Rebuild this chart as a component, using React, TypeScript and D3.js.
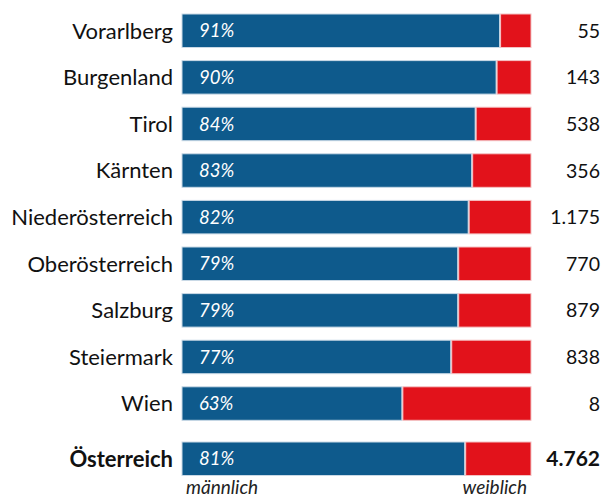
import React, { useRef, useEffect } from "react";
import * as d3 from "d3";

const regions = [
  "Vorarlberg",
  "Burgenland",
  "Tirol",
  "Kärnten",
  "Niederösterreich",
  "Oberösterreich",
  "Salzburg",
  "Steiermark",
  "Wien",
];
const malePct = [91, 90, 84, 83, 82, 79, 79, 77, 63];
const totals = ["55", "143", "538", "356", "1.175", "770", "879", "838", "8"];

const totalLabel = "Österreich";
const totalPct = 81;
const totalCount = "4.762";

const BLUE = "#0e5a8c";
const RED = "#e2121b";
const FONT = "Lato, 'Noto Sans', sans-serif";

const App = () => {
  const svgRef = useRef<SVGSVGElement>(null);

  useEffect(() => {
    if (!svgRef.current) return;
    const svg = d3.select(svgRef.current);
    svg.selectAll("*").remove();

    const step = 46.6;
    const bh = 33.5;
    const x = d3.scaleLinear().domain([0, 100]).range([182, 531]);
    const y = d3
      .scaleBand<string>()
      .domain(regions)
      .range([14, 14 + step * (regions.length - 1) + bh])
      .paddingInner((step - bh) / step)
      .paddingOuter(0);

    const rows = [
      ...regions.map((r, i) => ({ name: r, pct: malePct[i], total: totals[i], y: y(r)!, bold: false })),
      { name: totalLabel, pct: totalPct, total: totalCount, y: 442, bold: true },
    ];

    const g = svg.append("g");
    const row = g
      .selectAll("g.row")
      .data(rows)
      .join("g")
      .attr("class", "row")
      .attr("transform", (d) => `translate(0,${d.y})`);

    row
      .append("rect")
      .attr("x", x(0))
      .attr("width", (d) => x(d.pct) - x(0))
      .attr("height", bh)
      .attr("fill", BLUE)
      .attr("stroke", "#c9d9e6")
      .attr("stroke-width", 1);

    row
      .append("rect")
      .attr("x", (d) => x(d.pct) + 1)
      .attr("width", (d) => x(100) - x(d.pct) - 1)
      .attr("height", bh)
      .attr("fill", RED)
      .attr("stroke", "#f4c2c4")
      .attr("stroke-width", 1);

    row
      .append("text")
      .attr("x", 173)
      .attr("y", bh / 2)
      .attr("dy", "0.36em")
      .attr("text-anchor", "end")
      .attr("font-family", FONT)
      .attr("font-size", 22)
      .attr("font-weight", (d) => (d.bold ? 700 : 400))
      .attr("fill", "#111")
      .text((d) => d.name);

    row
      .append("text")
      .attr("x", 199)
      .attr("y", bh / 2)
      .attr("dy", "0.36em")
      .attr("font-family", FONT)
      .attr("font-size", 18.5)
      .attr("font-style", "italic")
      .attr("font-weight", 400)
      .attr("fill", "#fff")
      .text((d) => `${d.pct}%`);

    row
      .append("text")
      .attr("x", 600)
      .attr("y", bh / 2)
      .attr("dy", "0.36em")
      .attr("text-anchor", "end")
      .attr("font-family", FONT)
      .attr("font-size", (d) => (d.bold ? 21 : 19.5))
      .attr("font-weight", (d) => (d.bold ? 700 : 400))
      .attr("fill", "#111")
      .text((d) => d.total);

    g.append("text")
      .attr("x", 186)
      .attr("y", 494)
      .attr("font-family", FONT)
      .attr("font-size", 19)
      .attr("font-style", "italic")
      .attr("fill", "#222")
      .text("männlich");

    g.append("text")
      .attr("x", 527)
      .attr("y", 494)
      .attr("text-anchor", "end")
      .attr("font-family", FONT)
      .attr("font-size", 19)
      .attr("font-style", "italic")
      .attr("fill", "#222")
      .text("weiblich");
  }, []);

  return (
    <svg
      ref={svgRef}
      width={603}
      height={500}
      style={{ position: "absolute", left: 0, top: 0, background: "#fff" }}
    ></svg>
  );
};

export default App;
